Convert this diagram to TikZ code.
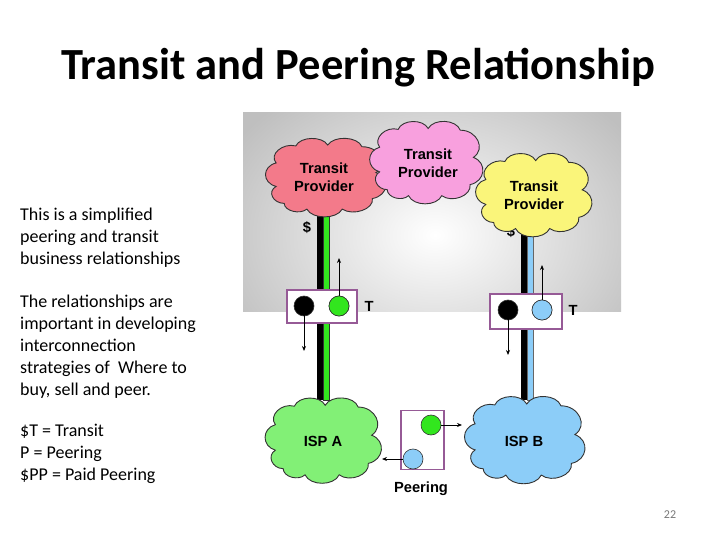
\documentclass[tikz,border=0pt]{standalone}
\usepackage{fontspec}
\setmainfont{Carlito}
\newfontfamily\arialb{Liberation Sans Bold}
\usetikzlibrary{arrows.meta}
\definecolor{cRed}{RGB}{243,122,138}
\definecolor{cPink}{RGB}{248,160,222}
\definecolor{cYel}{RGB}{250,245,122}
\definecolor{cGrnC}{RGB}{130,240,118}
\definecolor{cBlu}{RGB}{140,205,248}
\definecolor{cGrn}{RGB}{50,230,30}
\definecolor{cPur}{RGB}{150,90,150}
\definecolor{cNum}{RGB}{120,120,120}
\newcommand\mycloud[5]{%
  \begin{scope}[shift={(#1,#2)}, xscale=#3/2, yscale=#4/2]
  \filldraw[fill=#5, draw=black!80, line width=0.9bp, bend right=70, looseness=1.15]
   (-0.33,0.78) to (0.28,0.78) to (0.80,0.52) to (0.86,-0.12) to (0.62,-0.76)
   to (0.03,-0.80) to (-0.52,-0.78) to (-0.86,-0.36) to (-0.86,0.22)
   to (-0.72,0.64) to (-0.33,0.78) -- cycle;
  \end{scope}}
\tikzset{
  ctext/.style={align=center, inner sep=0pt, font=\arialb\fontsize{14.7bp}{18bp}\selectfont},
  pbox/.style={draw=cPur, line width=1.6bp, fill=white, inner sep=0pt},
  dot/.style={circle, draw=black!80, line width=0.6bp, minimum size=20bp, inner sep=0pt},
  arr/.style={-{Stealth[length=5bp,width=4bp]}, line width=0.8bp},
  lbl/.style={font=\arialb\fontsize{14.7bp}{18bp}\selectfont, inner sep=0pt},
  body/.style={font=\fontsize{18bp}{22bp}\selectfont, align=left, anchor=north west, inner sep=0pt}
}
\begin{document}
\begin{tikzpicture}[x=1bp,y=-1bp]
\useasboundingbox (0,0) rectangle (720,540);
\fill[white] (0,0) rectangle (720,540);
% title
\node[font=\bfseries\fontsize{44.5bp}{50bp}\selectfont, inner sep=0pt] (title) at (358,68) {Transit and Peering Relationship};
% left text
\node[body] (t1) at (20,208) {This is a simplified\\peering and transit\\business relationships};
\node[body] (t2) at (20,295) {The relationships are\\important in developing\\interconnection\\strategies of \ Where to\\buy, sell and peer.};
\node[body] (t3) at (20,424) {\$T = Transit\\P = Peering\\\$PP = Paid Peering};
% gradient panel
\begin{scope}
\clip (243,113) rectangle (621,311);
\shade[inner color=white, outer color=black!25] (200,60) rectangle (670,410);
\end{scope}
% vertical links
\fill[black] (317,212) rectangle (323.5,400);
\filldraw[fill=cGrn, draw=black!80, line width=0.4bp] (323.5,212) rectangle (329.5,400);
\fill[black] (521,228) rectangle (527.5,400);
\filldraw[fill=cBlu, draw=black!60, line width=0.4bp] (527.5,228) rectangle (533.5,400);
% dollar signs
\node[lbl] (dL) at (307,228) {\$};
\node[lbl] (dR) at (511,232) {\$};
% clouds
\mycloud{326}{177.5}{116}{81}{cRed}
\mycloud{426.5}{162.5}{109}{85}{cPink}
\mycloud{534}{195}{112}{86}{cYel}
\mycloud{323.5}{440.5}{112}{88}{cGrnC}
\mycloud{525}{440}{116}{90}{cBlu}
\node[ctext] (cR) at (324,177) {Transit\\Provider};
\node[ctext] (cP) at (428,163) {Transit\\Provider};
\node[ctext] (cY) at (534,195) {Transit\\Provider};
\node[ctext] (iA) at (323,441) {ISP A};
\node[ctext] (iB) at (524,441) {ISP B};
% transit boxes
\node[pbox, minimum width=70bp, minimum height=33bp] (bL) at (322,306.5) {};
\node[dot, fill=black] (kL) at (304,306) {};
\node[dot, fill=cGrn] (gL) at (339,306) {};
\node[lbl] (TL) at (369,306) {T};
\node[pbox, minimum width=72bp, minimum height=35bp] (bR) at (526,311.5) {};
\node[dot, fill=black] (kR) at (508,310) {};
\node[dot, fill=cBlu] (gR) at (542,310) {};
\node[lbl] (TR) at (573,310) {T};
\coordinate (uL) at (339,258);
\coordinate (dnL) at (304,351);
\coordinate (uR) at (542,265);
\coordinate (dnR) at (508,355);
\draw[arr] (gL.center) -- (uL);
\draw[arr] (kL.center) -- (dnL);
\draw[arr] (gR.center) -- (uR);
\draw[arr] (kR.center) -- (dnR);
\node[dot, fill=cGrn] at (339,306) {};
\node[dot, fill=cBlu] at (542,310) {};
% peering box
\node[pbox, minimum width=43bp, minimum height=59bp] (bP) at (422.5,440) {};
\node[dot, fill=cGrn] (pG) at (431,425) {};
\node[dot, fill=cBlu] (pB) at (413,459) {};
\coordinate (pGe) at (462,425);
\coordinate (pBe) at (382,459);
\draw[arr] (pG.east) -- (pGe);
\draw[arr] (pB.west) -- (pBe);
\node[lbl] (pl) at (421,489) {Peering};
% page number
\node[font=\fontsize{12bp}{14bp}\selectfont, text=cNum, inner sep=0pt] (pn) at (670,515) {22};
\end{tikzpicture}
\end{document}
